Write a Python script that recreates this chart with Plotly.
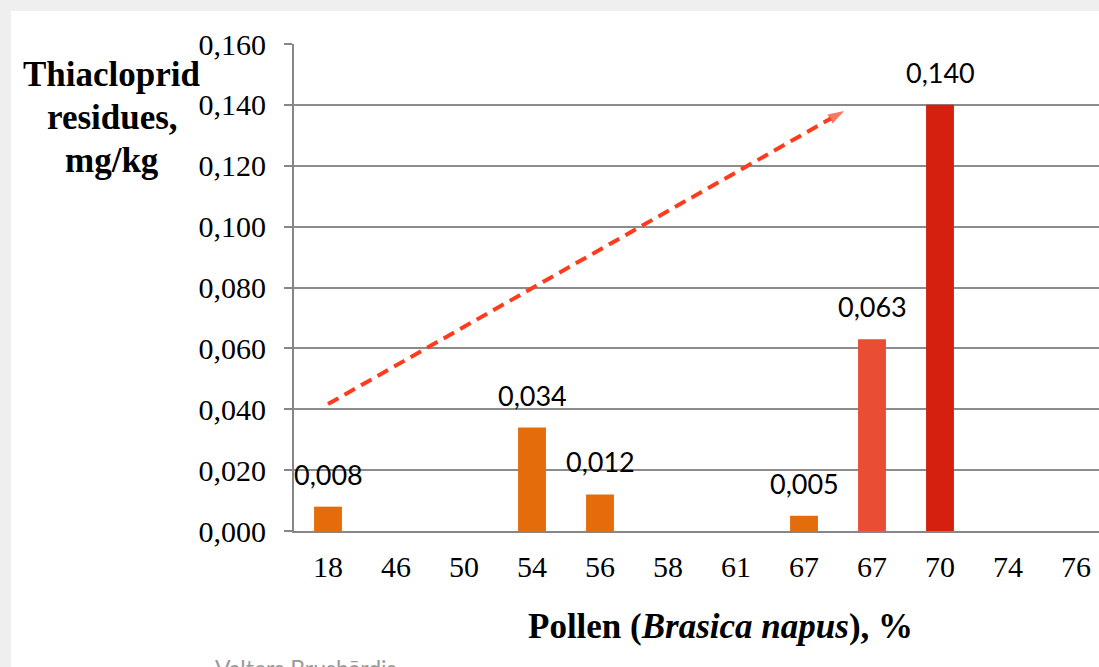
import plotly.graph_objects as go

# ---- data ----
categories = ["18", "46", "50", "54", "56", "58", "61", "67", "67", "70", "74", "76"]
residues = [0.008, None, None, 0.034, 0.012, None, None, 0.005, 0.063, 0.140, None, None]
bar_colors = ["#E46C0A", "#E46C0A", "#E46C0A", "#E46C0A", "#E46C0A", "#E46C0A",
              "#E46C0A", "#E46C0A", "#E94E34", "#D6200F", "#E46C0A", "#E46C0A"]
y_ticks = [0.0, 0.02, 0.04, 0.06, 0.08, 0.10, 0.12, 0.14, 0.16]
# trend arrow (category-index, value)
trend_x = [0.0, 7.59]
trend_y = [0.0417, 0.1380]

W, H = 1099, 667
x_idx = list(range(len(categories)))

fig = go.Figure()
fig.add_trace(go.Bar(
    x=x_idx, y=residues, marker=dict(color=bar_colors, line=dict(width=0)),
    width=0.41, showlegend=False, hoverinfo="skip",
))
fig.add_trace(go.Scatter(
    x=trend_x, y=trend_y, mode="lines+markers",
    line=dict(color="#FF3B1E", width=4, dash="12px,7px"),
    marker=dict(symbol=["circle", "arrow"], size=[0, 17], angleref="previous",
                color="#FF3B1E", line=dict(width=0)),
    showlegend=False, hoverinfo="skip",
))

annotations = []
for xi, v in zip(x_idx, residues):
    if v is None:
        continue
    annotations.append(dict(
        x=xi, y=v, xref="x", yref="y", text=f"{v:.3f}".replace(".", ","),
        showarrow=False, yanchor="bottom", yshift=14,
        font=dict(family="Lato", size=27, color="#000000"),
    ))

title_lines = ["Thiacloprid", "residues,", "mg/kg"]
baselines = [87, 130, 173]
for t, b in zip(title_lines, baselines):
    annotations.append(dict(
        x=112 / W, y=(H - b) / H, xref="paper", yref="paper", text=f"<b>{t}</b>",
        showarrow=False, xanchor="center", yanchor="bottom", yshift=-9,
        font=dict(family="Liberation Serif", size=35, color="#000000"),
    ))

annotations.append(dict(
    x=720 / W, y=(H - 626) / H, xref="paper", yref="paper",
    text="<b>Pollen (<i>Brasica napus</i>), %</b>",
    showarrow=False, xanchor="center", yanchor="middle",
    font=dict(family="Liberation Serif", size=35, color="#000000"),
))
annotations.append(dict(
    x=213 / W, y=(H - 652) / H, xref="paper", yref="paper",
    text="Valters Brushārdis",
    showarrow=False, xanchor="left", yanchor="top",
    font=dict(family="Lato", size=23, color="#9a9a9a"),
))

fig.update_layout(
    width=W, height=H,
    margin=dict(l=0, r=0, t=0, b=0, autoexpand=False),
    paper_bgcolor="#efefef", plot_bgcolor="rgba(0,0,0,0)",
    separators=", ",
    bargap=0.59,
    shapes=[dict(type="rect", xref="paper", yref="paper", x0=11 / W, x1=1.0,
                 y0=-0.01, y1=(H - 11) / H, fillcolor="#ffffff",
                 line=dict(width=0), layer="below")],
    annotations=annotations,
    xaxis=dict(
        domain=[294 / W, 1.0], range=[-0.5, -0.5 + (W - 294) / 68],
        tickvals=x_idx, ticktext=categories, showgrid=False, zeroline=False,
        showline=True, linecolor="#868686", linewidth=2, ticks="",
        tickfont=dict(family="Liberation Serif", size=30, color="#000000"),
        ticklabelstandoff=8, automargin=False,
    ),
    yaxis=dict(
        domain=[(H - 531) / H, (H - 44) / H], range=[0, 0.16],
        tickvals=y_ticks, tickformat=".3f",
        showgrid=True, gridcolor="#8c8c8c", gridwidth=1.5, zeroline=False,
        showline=True, linecolor="#868686", linewidth=2,
        ticks="outside", ticklen=8, tickcolor="#868686", tickwidth=1.5,
        tickfont=dict(family="Liberation Serif", size=30, color="#000000"),
        ticklabelstandoff=12, automargin=False,
    ),
)

fig.write_html(
    "out.html",
    config={"displayModeBar": False},
    post_script="document.body.style.margin='0';document.body.style.background='#efefef';",
)
